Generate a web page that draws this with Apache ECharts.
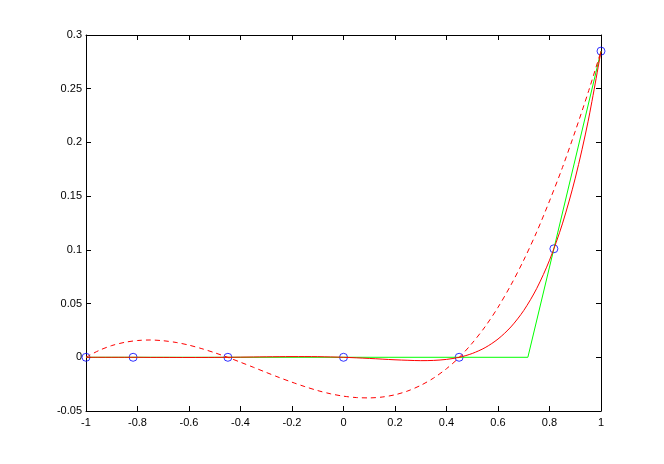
<!DOCTYPE html>
<html>
<head>
<meta charset="utf-8">
<script src="https://cdn.jsdelivr.net/npm/echarts@6/dist/echarts.min.js"></script>
<style>
  html, body { margin: 0; padding: 0; background: #fff; }
  #chart { width: 664px; height: 464px; }
</style>
</head>
<body>
<div id="chart"></div>
<script>
// sample positions along x
const xs = [-1, -0.95, -0.9, -0.85, -0.8, -0.75, -0.7, -0.65, -0.6, -0.55, -0.5,
  -0.45, -0.4, -0.35, -0.3, -0.25, -0.2, -0.15, -0.1, -0.05, 0,
  0.05, 0.1, 0.15, 0.2, 0.25, 0.3, 0.35, 0.4, 0.45, 0.5,
  0.55, 0.6, 0.65, 0.7, 0.75, 0.8, 0.85, 0.9, 0.95, 1]

// red solid curve
const redSolid = [0, 0, 0, 0, 0, -0.0001, -0.0001, -0.00015, -0.00017, -0.00015, -0.0001,
  0, 0.00013, 0.00028, 0.00043, 0.00055, 0.00064, 0.00063, 0.00056, 0.00031, 0,
  -0.0005, -0.00106, -0.0017, -0.00235, -0.0028, -0.00313, -0.00291, -0.00196, 0, 0.00354,
  0.00899, 0.01699, 0.02824, 0.04357, 0.06391, 0.09036, 0.12418, 0.16677, 0.21975, 0.285]

// red dashed curve
const redDashed = [0, 0.0063, 0.0109, 0.0139, 0.0156, 0.0161, 0.0154, 0.0138, 0.0113, 0.008, 0.0042,
  0, -0.0046, -0.0093, -0.0141, -0.0188, -0.0232, -0.0273, -0.031, -0.034, -0.0362,
  -0.0375, -0.0378, -0.037, -0.0349, -0.0313, -0.0261, -0.0193, -0.0106, 0, 0.0132,
  0.0285, 0.0465, 0.0672, 0.0905, 0.1165, 0.1455, 0.1765, 0.2105, 0.2465, 0.285]

// green piecewise line
const greenX = [-1, 0.716, 0.817, 1]
const greenY = [0, 0, 0.101, 0.285]

// blue circle nodes
const nodeX = [-1, -0.817, -0.449, 0, 0.449, 0.817, 1]
const nodeY = [0, 0, 0, 0, 0, 0.101, 0.285]

const fmt = v => String(+v.toFixed(2))
const axisText = { color: '#000', fontFamily: 'Liberation Sans', fontSize: 11 }

function boxAxis (pos, min, max, interval, labels) {
  return {
    type: 'value', position: pos, min: min, max: max, interval: interval,
    axisLine: { show: true, onZero: false, lineStyle: { color: '#000', width: 1 } },
    axisTick: { show: true, inside: true, length: 5, lineStyle: { color: '#000' } },
    axisLabel: labels
      ? Object.assign({ margin: pos === 'bottom' ? 6 : 4, formatter: fmt }, axisText)
      : { show: false },
    splitLine: { show: false }
  }
}

const chart = echarts.init(document.getElementById('chart'))
const option = {
  animation: false,
  backgroundColor: '#fff',
  grid: { left: 86, right: 63, top: 35, bottom: 53 },
  xAxis: [
    boxAxis('bottom', -1, 1, 0.2, true),
    boxAxis('top', -1, 1, 0.2, false)
  ],
  yAxis: [
    boxAxis('left', -0.05, 0.3, 0.05, true),
    boxAxis('right', -0.05, 0.3, 0.05, false)
  ],
  series: [
    {
      name: 'green', type: 'line', showSymbol: false,
      lineStyle: { color: '#00ff00', width: 1 },
      data: greenX.map((x, i) => [x, greenY[i]])
    },
    {
      name: 'solid', type: 'line', showSymbol: false, smooth: 0.3,
      lineStyle: { color: '#ff0000', width: 1 },
      data: xs.map((x, i) => [x, redSolid[i]])
    },
    {
      name: 'dashed', type: 'line', showSymbol: false, smooth: 0.3,
      lineStyle: { color: '#ff0000', width: 1, type: [5, 4] },
      data: xs.map((x, i) => [x, redDashed[i]])
    },
    {
      name: 'nodes', type: 'scatter', symbol: 'circle', symbolSize: 8,
      itemStyle: { color: 'rgba(0,0,0,0)', borderColor: '#0000ff', borderWidth: 1 },
      data: nodeX.map((x, i) => [x, nodeY[i]])
    }
  ]
}
chart.setOption(option)
</script>
</body>
</html>
